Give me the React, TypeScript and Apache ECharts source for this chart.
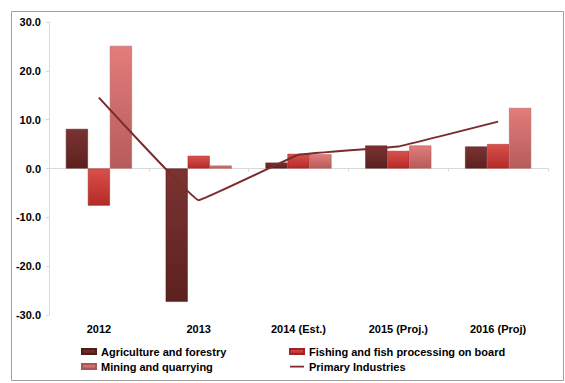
import React, { useEffect, useRef } from "react";
import * as echarts from "echarts";

const categories = ["2012", "2013", "2014 (Est.)", "2015 (Proj.)", "2016 (Proj)"];
const agriculture = [8.1, -27.3, 1.2, 4.7, 4.5];
const fishing = [-7.6, 2.6, 3.0, 3.6, 5.0];
const mining = [25.1, 0.6, 2.9, 4.7, 12.4];
const primary = [14.5, -6.5, 2.8, 4.5, 9.6];
const seriesNames = [
  "Agriculture and forestry",
  "Fishing and fish processing on board",
  "Mining and quarrying",
  "Primary Industries",
];

const vgrad = (top: string, bottom: string) =>
  new echarts.graphic.LinearGradient(0, 0, 0, 1, [
    { offset: 0, color: top },
    { offset: 1, color: bottom },
  ]);

const lineIcon =
  "path://M0,0 L0.01,0 L0.01,0.01 Z M0,1.8 L14,1.8 L14,3.4 L0,3.4 Z M13.99,5 L14,5 L14,4.99 Z";

export default function App() {
  const ref = useRef<HTMLDivElement>(null);
  useEffect(() => {
    document.body.style.margin = "0";
    const chart = echarts.init(ref.current!, null, { renderer: "svg" });
    const font = "'Liberation Sans', Arial, sans-serif";
    const legendText = { fontFamily: font, fontSize: 11, fontWeight: "bold", color: "#000" };
    chart.setOption({
      animation: false,
      textStyle: { fontFamily: font },
      graphic: [
        {
          type: "rect",
          shape: { x: 11.5, y: 11.5, width: 552, height: 369 },
          style: { fill: "none", stroke: "#a0a0a0", lineWidth: 1 },
          silent: true,
        },
      ],
      grid: { left: 49, right: 17, top: 22, bottom: 68, containLabel: false },
      legend: [
        {
          data: [
            { name: seriesNames[0], icon: "rect" },
            { name: seriesNames[2], icon: "rect" },
          ],
          orient: "vertical",
          left: 81,
          top: 346,
          padding: 0,
          itemWidth: 14,
          itemHeight: 5,
          itemGap: 4,
          textStyle: legendText,
        },
        {
          data: [
            { name: seriesNames[1], icon: "rect" },
            { name: seriesNames[3], icon: lineIcon },
          ],
          orient: "vertical",
          left: 289,
          top: 346,
          padding: 0,
          itemWidth: 14,
          itemHeight: 5,
          itemGap: 4,
          textStyle: legendText,
        },
      ],
      xAxis: [
        {
          type: "category",
          data: categories,
          axisLine: { onZero: true, lineStyle: { color: "#d9d9d9" } },
          axisTick: { show: true, length: 3, lineStyle: { color: "#d9d9d9" } },
          axisLabel: { show: false },
        },
        {
          type: "category",
          data: categories,
          position: "bottom",
          axisLine: { show: false, onZero: false },
          axisTick: { show: false },
          axisLabel: {
            show: true,
            margin: 8,
            fontFamily: font,
            fontSize: 11,
            fontWeight: "bold",
            color: "#000",
          },
        },
      ],
      yAxis: {
        type: "value",
        min: -30,
        max: 30,
        interval: 10,
        axisLine: { show: true, lineStyle: { color: "#d9d9d9" } },
        axisTick: { show: true, length: 3, lineStyle: { color: "#d9d9d9" } },
        splitLine: { show: false },
        axisLabel: {
          margin: 8,
          fontFamily: font,
          fontSize: 11,
          fontWeight: "bold",
          color: "#000",
          formatter: (v: number) => v.toFixed(1),
        },
      },
      series: [
        {
          name: seriesNames[0],
          type: "bar",
          data: agriculture,
          barWidth: 22,
          barGap: "0%",
          itemStyle: { color: vgrad("#7a3331", "#5c2120"), borderColor: "#4e1c1b", borderWidth: 0.5 },
        },
        {
          name: seriesNames[1],
          type: "bar",
          data: fishing,
          barWidth: 22,
          barGap: "0%",
          itemStyle: { color: vgrad("#d9504b", "#b32a27"), borderColor: "#9e2523", borderWidth: 0.5 },
        },
        {
          name: seriesNames[2],
          type: "bar",
          data: mining,
          barWidth: 22,
          barGap: "0%",
          itemStyle: { color: vgrad("#e27d7b", "#b65b5b"), borderColor: "#a85555", borderWidth: 0.5 },
        },
        {
          name: seriesNames[3],
          type: "line",
          data: primary,
          symbol: "none",
          smooth: 0.05,
          lineStyle: { color: "#7b2b2b", width: 2 },
          itemStyle: { color: "#7b2b2b" },
        },
      ],
    });
    return () => chart.dispose();
  }, []);
  return <div ref={ref} style={{ width: 565, height: 383 }} />;
}
